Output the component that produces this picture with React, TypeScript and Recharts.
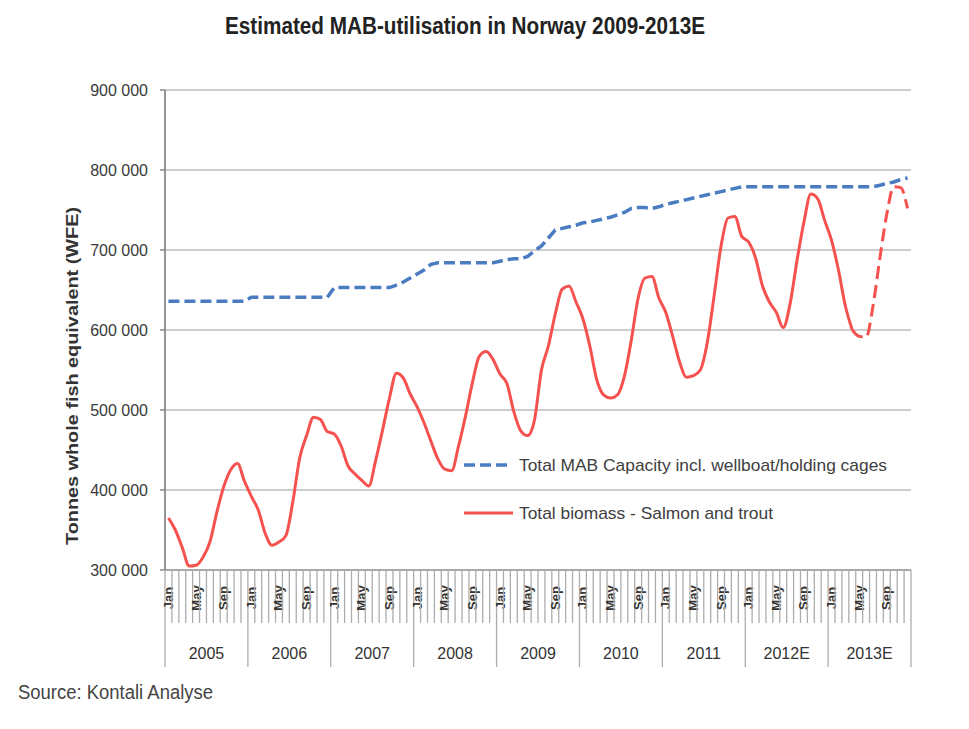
import React from "react";
import { LineChart, Line, XAxis, YAxis, CartesianGrid } from "recharts";

const months = ["Jan", "Feb", "Mar", "Apr", "May", "Jun", "Jul", "Aug", "Sep", "Oct", "Nov", "Dec"];
const years = ["2005", "2006", "2007", "2008", "2009", "2010", "2011", "2012E", "2013E"];
const labelledMonths = ["Jan", "May", "Sep"];
const yTicks = [300000, 400000, 500000, 600000, 700000, 800000, 900000];

// Total MAB capacity incl. wellboat/holding cages (monthly, Jan 2005 - Dec 2013)
const capacity = [
  636000, 636000, 636000, 636000, 636000, 636000, 636000, 636000, 636000, 636000, 636000, 636000,
  641000, 641000, 641000, 641000, 641000, 641000, 641000, 641000, 641000, 641000, 641000, 641000,
  653000, 653000, 653000, 653000, 653000, 653000, 653000, 653000, 653000, 656000, 660000, 665000,
  670000, 675000, 682000, 684000, 684000, 684000, 684000, 684000, 684000, 684000, 684000, 684000,
  686000, 688000, 689000, 689000, 692000, 699000, 705000, 715000, 725000, 727000, 729000, 731000,
  734000, 735000, 737000, 739000, 741000, 744000, 747000, 752000, 753000, 753000, 752000, 754000,
  757000, 759000, 761000, 763000, 765000, 767000, 769000, 771000, 773000, 775000, 777000, 779000,
  779000, 779000, 779000, 779000, 779000, 779000, 779000, 779000, 779000, 779000, 779000, 779000,
  779000, 779000, 779000, 779000, 779000, 779000, 779000, 781000, 783000, 785000, 788000, 790000,
];

// Total biomass - Salmon and trout (actual/solid part)
const biomass = [
  365000, 350000, 328000, 305000, 306000, 316000, 335000, 372000, 404000, 425000, 433000, 411000,
  392000, 375000, 346000, 331000, 335000, 343000, 385000, 440000, 468000, 491000, 488000, 473000,
  470000, 455000, 430000, 420000, 412000, 405000, 437000, 475000, 515000, 546000, 540000, 520000,
  504000, 484000, 461000, 439000, 426000, 424000, 455000, 492000, 534000, 567000, 573000, 563000,
  545000, 533000, 498000, 474000, 468000, 488000, 550000, 580000, 620000, 651000, 655000, 635000,
  614000, 580000, 538000, 519000, 515000, 519000, 542000, 587000, 640000, 665000, 667000, 640000,
  622000, 592000, 560000, 541000, 543000, 550000, 584000, 643000, 705000, 740000, 742000, 717000,
  710000, 690000, 655000, 635000, 622000, 603000, 633000, 687000, 735000, 770000, 764000, 737000,
  712000, 675000, 630000, 600000,
];

// Estimated biomass (dashed part), Apr 2013 - Dec 2013
const forecastStart = 99;
const biomassE = [600000, 592000, 591000, 630000, 690000, 745000, 779000, 778000, 752000];

const data = capacity.map((c, i) => ({
  t: i + 0.5,
  capacity: c,
  biomass: i < biomass.length ? biomass[i] : null,
  biomassE: i >= forecastStart ? biomassE[i - forecastStart] : null,
}));

const xTicks = Array.from({ length: capacity.length * 2 + 1 }, (_, k) => k / 2);

const FONT = "'Liberation Sans', Arial, sans-serif";
const BLUE = "#4a7cc2";
const RED = "#f5524f";
const PLOT_BOTTOM = 570;

const fmt = (v: number) => String(v).replace(/\B(?=(\d{3})+(?!\d))/g, " ");

const MonthTick = (props: any) => {
  const { x, payload } = props;
  const v = payload.value as number;
  if (Number.isInteger(v)) {
    const isYear = v % 12 === 0;
    const midYear = v % 12 === 6;
    return (
      <g>
        <line x1={x} x2={x} y1={PLOT_BOTTOM} y2={isYear ? 667 : 623} stroke="#adadad" strokeWidth={1.3} />
        {midYear && (
          <text x={x} y={659} textAnchor="middle" fontFamily={FONT} fontSize={16} fill="#333">
            {years[Math.floor(v / 12)]}
          </text>
        )}
      </g>
    );
  }
  const idx = Math.round(v - 0.5);
  const m = months[idx % 12];
  if (!labelledMonths.includes(m)) return <g />;
  return (
    <text
      x={x}
      y={598}
      transform={`rotate(-90 ${x} 598)`}
      textAnchor="middle"
      dominantBaseline="central"
      fontFamily={FONT}
      fontSize={13}
      fontWeight="bold"
      fill="#333"
    >
      {m}
    </text>
  );
};

const YLabel = () => (
  <text
    x={72}
    y={376}
    transform="rotate(-90 72 376)"
    textAnchor="middle"
    dominantBaseline="central"
    fontFamily={FONT}
    fontSize={16}
    fontWeight="bold"
    fill="#333"
    textLength={338}
    lengthAdjust="spacingAndGlyphs"
  >
    Tonnes whole fish equivalent (WFE)
  </text>
);

export default function App() {
  return (
    <div style={{ position: "absolute", left: 0, top: 0, width: 969, height: 729, background: "#fff" }}>
      <LineChart
        width={969}
        height={729}
        data={data}
        margin={{ top: 90, right: 58, bottom: 59, left: 65 }}
      >
        <CartesianGrid horizontal vertical={false} stroke="#bcbcbc" strokeWidth={1.6} />
        <XAxis
          type="number"
          dataKey="t"
          domain={[0, capacity.length]}
          ticks={xTicks}
          interval={0}
          tickLine={false}
          axisLine={{ stroke: "#a8a8a8", strokeWidth: 2 }}
          height={100}
          tick={<MonthTick />}
        />
        <YAxis
          type="number"
          domain={[300000, 900000]}
          ticks={yTicks}
          interval={0}
          width={100}
          tickFormatter={fmt}
          tickSize={5}
          tickMargin={12}
          axisLine={{ stroke: "#8a8a8a", strokeWidth: 1.8 }}
          tickLine={{ stroke: "#8a8a8a", strokeWidth: 1.5 }}
          tick={{ fontFamily: FONT, fontSize: 16, fill: "#3a3a3a" }}
          label={{ content: () => <YLabel /> }}
        />
        <Line
          type="linear"
          dataKey="capacity"
          stroke={BLUE}
          strokeWidth={3.5}
          strokeDasharray="11 5"
          dot={false}
          isAnimationActive={false}
        />
        <Line
          type="monotone"
          dataKey="biomass"
          stroke={RED}
          strokeWidth={3}
          dot={false}
          connectNulls={false}
          isAnimationActive={false}
        />
        <Line
          type="monotone"
          dataKey="biomassE"
          stroke={RED}
          strokeWidth={3}
          strokeDasharray="13 6"
          dot={false}
          connectNulls={false}
          isAnimationActive={false}
        />
      </LineChart>
      <svg
        width={969}
        height={729}
        style={{ position: "absolute", left: 0, top: 0, pointerEvents: "none" }}
      >
        <text
          x={465}
          y={34}
          textAnchor="middle"
          fontFamily={FONT}
          fontSize={23}
          fontWeight="bold"
          fill="#222"
          textLength={480}
          lengthAdjust="spacingAndGlyphs"
        >
          Estimated MAB-utilisation in Norway 2009-2013E
        </text>
        <g>
          <line x1={464} x2={510} y1={465} y2={465} stroke={BLUE} strokeWidth={3.5} strokeDasharray="11 5" />
          <text
            x={519}
            y={471}
            fontFamily={FONT}
            fontSize={17}
            fill="#404040"
            textLength={368}
            lengthAdjust="spacingAndGlyphs"
          >
            Total MAB Capacity incl. wellboat/holding cages
          </text>
          <line x1={464} x2={513} y1={513} y2={513} stroke={RED} strokeWidth={3} />
          <text
            x={519}
            y={519}
            fontFamily={FONT}
            fontSize={17}
            fill="#404040"
            textLength={254}
            lengthAdjust="spacingAndGlyphs"
          >
            Total biomass - Salmon and trout
          </text>
        </g>
        <text
          x={18}
          y={699}
          fontFamily={FONT}
          fontSize={20}
          fill="#444"
          textLength={195}
          lengthAdjust="spacingAndGlyphs"
        >
          Source: Kontali Analyse
        </text>
      </svg>
    </div>
  );
}
